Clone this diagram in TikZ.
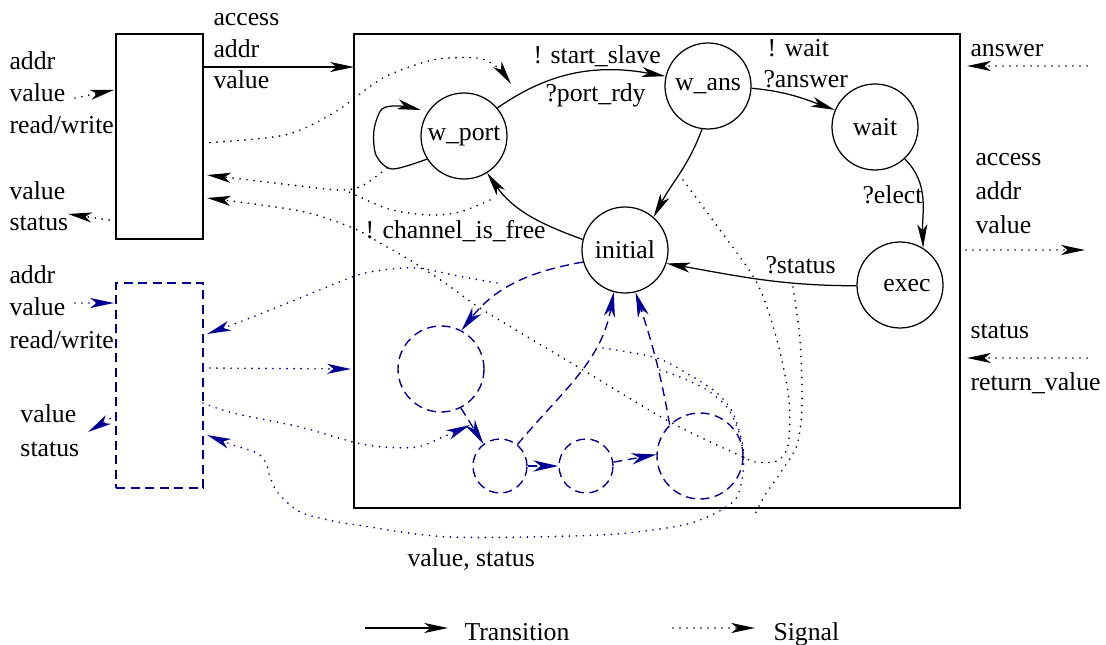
\documentclass[tikz,border=0pt]{standalone}
\usepackage{fontspec}
\setmainfont{Liberation Serif}
\usetikzlibrary{arrows.meta}
\definecolor{fblue}{RGB}{0,0,150}
\begin{document}
\begin{tikzpicture}[x=0.4pt,y=-0.4pt,
  every node/.style={font=\fontsize{10.3}{12}\selectfont},
  txt/.style={anchor=base west, inner sep=0pt, yshift=-0.8pt},
  stc/.style={draw, circle, minimum size=34.4pt, inner sep=0pt, line width=0.5pt},
  bdash/.style={line width=0.55pt, draw=fblue, dash pattern=on 3.6pt off 2.2pt},
  dst/.style={bdash, circle, inner sep=0pt},
  tr/.style={line width=0.5pt, -{Stealth[length=9.5pt,width=4pt,inset=2.5pt]}},
  dotl/.style={line width=0.75pt, dash pattern=on 0pt off 2.8pt, line cap=round},
  sig/.style={dotl, -{Stealth[length=9.5pt,width=4pt,inset=2.5pt]}},
  sigb/.style={sig, draw=fblue, fill=none},
  btr/.style={bdash, -{Stealth[length=10pt,width=4.5pt,inset=3pt]}}
]
\useasboundingbox (0,0) rectangle (1106,645);

% boxes
\node[draw, line width=0.5pt, minimum width=34.8pt, minimum height=82pt, inner sep=0pt] (lbox1) at (159.5,136.5) {};
\node[bdash, draw=fblue, minimum width=34.8pt, minimum height=82pt, inner sep=0pt] (lbox2) at (159.5,385.5) {};
\node[draw, line width=0.5pt, minimum width=242.4pt, minimum height=189.6pt, inner sep=0pt] (main) at (657,271) {};

% states
\node[stc] (wport) at (464,136) {w\_port};
\node[stc] (wans) at (708,86) {w\_ans};
\node[stc] (wait) at (875,127) {wait};
\node[stc] (exec) at (900,285) {};
\node[inner sep=0pt] (execlbl) at (907,286) {exec};
\node[stc] (initial) at (625,250) {initial};

% dashed states
\node[dst, minimum size=34.4pt] (d1) at (441,369) {};
\node[dst, minimum size=21.6pt] (d2) at (500,466) {};
\node[dst, minimum size=21.6pt] (d3) at (586,466) {};
\node[dst, minimum size=34.4pt] (d4) at (700,456) {};

% texts
\node[txt] (tacc) at (213,24) {access};
\node[txt] (taddr) at (213,56) {addr};
\node[txt] (tval) at (213,87) {value};
\node[txt] (la1) at (9,68) {addr};
\node[txt] (la2) at (9,100) {value};
\node[txt] (la3) at (9,132) {read/write};
\node[txt] (la4) at (9,198) {value};
\node[txt] (la5) at (9,229) {status};
\node[txt] (lb1) at (9,282) {addr};
\node[txt] (lb2) at (9,314) {value};
\node[txt] (lb3) at (9,346) {read/write};
\node[txt] (lb4) at (20,421) {value};
\node[txt] (lb5) at (20,454) {status};
\node[txt] (r1) at (970,55) {answer};
\node[txt] (r2) at (975,164) {access};
\node[txt] (r3) at (975,198) {addr};
\node[txt] (r4) at (975,232) {value};
\node[txt] (r5) at (970,336) {status};
\node[txt] (r6) at (970,389) {return\_value};
\node[txt] (l1) at (533,62) {! start\_slave};
\node[txt] (l2) at (545,100) {?port\_rdy};
\node[txt] (l3) at (767,55) {! wait};
\node[txt] (l4) at (763,86) {?answer};
\node[txt] (l5) at (862,202) {?elect};
\node[txt] (l6) at (765,272) {?status};
\node[txt] (l7) at (365,237) {! channel\_is\_free};
\node[txt] (l8) at (407,564) {value, status};
\node[txt] (lg1) at (464,638) {Transition};
\node[txt] (lg2) at (773,638) {Signal};

% coordinates
\coordinate (a1) at (203,67);
\coordinate (a2) at (354,67);
\coordinate (lgA) at (365,628);
\coordinate (lgB) at (448,628);
\coordinate (lgC) at (673,628);
\coordinate (lgD) at (755,628);

% transitions
\draw[tr] plot[smooth] coordinates {(wport.212) (392,169) (376,155) (374,130) (382,109) (400,106) (421,110)};
\draw[tr] (wport.40) to[out=35,in=170] (wans.167);
\draw[tr] (wans.-3) to[out=-5,in=160] (wait.157);
\draw[tr] (wait.-47) to[out=-45,in=92] (exec.58);
\draw[tr] (exec.181) to[out=180,in=-10] (initial.-18);
\draw[tr] (wans.-98) to[out=-110,in=62] (initial.49);
\draw[tr] (initial.166) to[out=160,in=-55] (wport.-58);
\draw[tr] (a1) -- (a2);
\draw[tr] (lgA) -- (lgB);
\draw[sig] (lgC) -- (lgD);

% dashed transitions
\draw[btr] (initial.196) to[out=190,in=52] (d1.62);
\draw[btr] (d1.-63) -- (d2.127);
\draw[btr] (d2.51) to[out=50,in=-100] (initial.-105);
\draw[btr] (d2.east) -- (d3.west);
\draw[btr] (d3.8) -- (d4.178);
\draw[btr] (d4.134) to[out=100,in=-72] (initial.-76);

% black signals
\draw[sig] (75,98) -- (114,90);
\draw[sig] (116,221) -- (68,214);
\draw[sig] plot[smooth] coordinates {(203,143) (285,135) (335,112) (383,78) (433,60) (477,58) (497,67) (511,84)};
\draw[sig] plot[smooth] coordinates {(387,168) (362,186) (340,190) (300,186) (207,175)};
\draw[dotl] plot[smooth] coordinates {(490,200) (460,212) (430,215) (392,210) (362,198) (345,190)};
\draw[sig] plot[smooth] coordinates {(683,180) (720,230) (757,283) (777,340) (789,400) (788,445) (777,461) (755,462) (743,457) (670,422) (583,370) (483,310) (448,285) (413,262) (380,243) (353,228) (300,211) (207,198)};
\draw[dotl] plot[smooth] coordinates {(793,287) (800,340) (802,405) (797,445) (781,472) (765,495) (755,514)};
\draw[sig] (1087,66) -- (967,66);
\draw[sig] (966,250) -- (1085,250);
\draw[sig] (1087,358) -- (967,358);

% blue signals
\draw[sigb] (75,303) -- (114,303);
\draw[sigb] (116,415) -- (88,432);
\draw[sigb] (203,368) -- (351,369);
\draw[sigb] plot[smooth] coordinates {(497,283) (463,277) (417,268) (383,270) (355,276) (300,298) (250,318) (207,334)};
\draw[sigb] plot[smooth] coordinates {(203,403) (233,413) (300,427) (353,442) (383,447) (417,447) (443,437) (470,425)};
\draw[sigb] plot[smooth] coordinates {(603,348) (657,358) (693,377) (717,393) (733,413) (743,447) (743,473) (737,497) (723,509) (700,520) (673,527) (600,535) (450,537) (357,525) (333,521) (300,512) (278,493) (270,477) (266,463) (257,453) (233,445) (207,435)};
\draw[dotl, draw=fblue] plot[smooth] coordinates {(660,370) (680,377) (707,390) (727,407) (737,427) (742,445) (743,460)};
\end{tikzpicture}
\end{document}
